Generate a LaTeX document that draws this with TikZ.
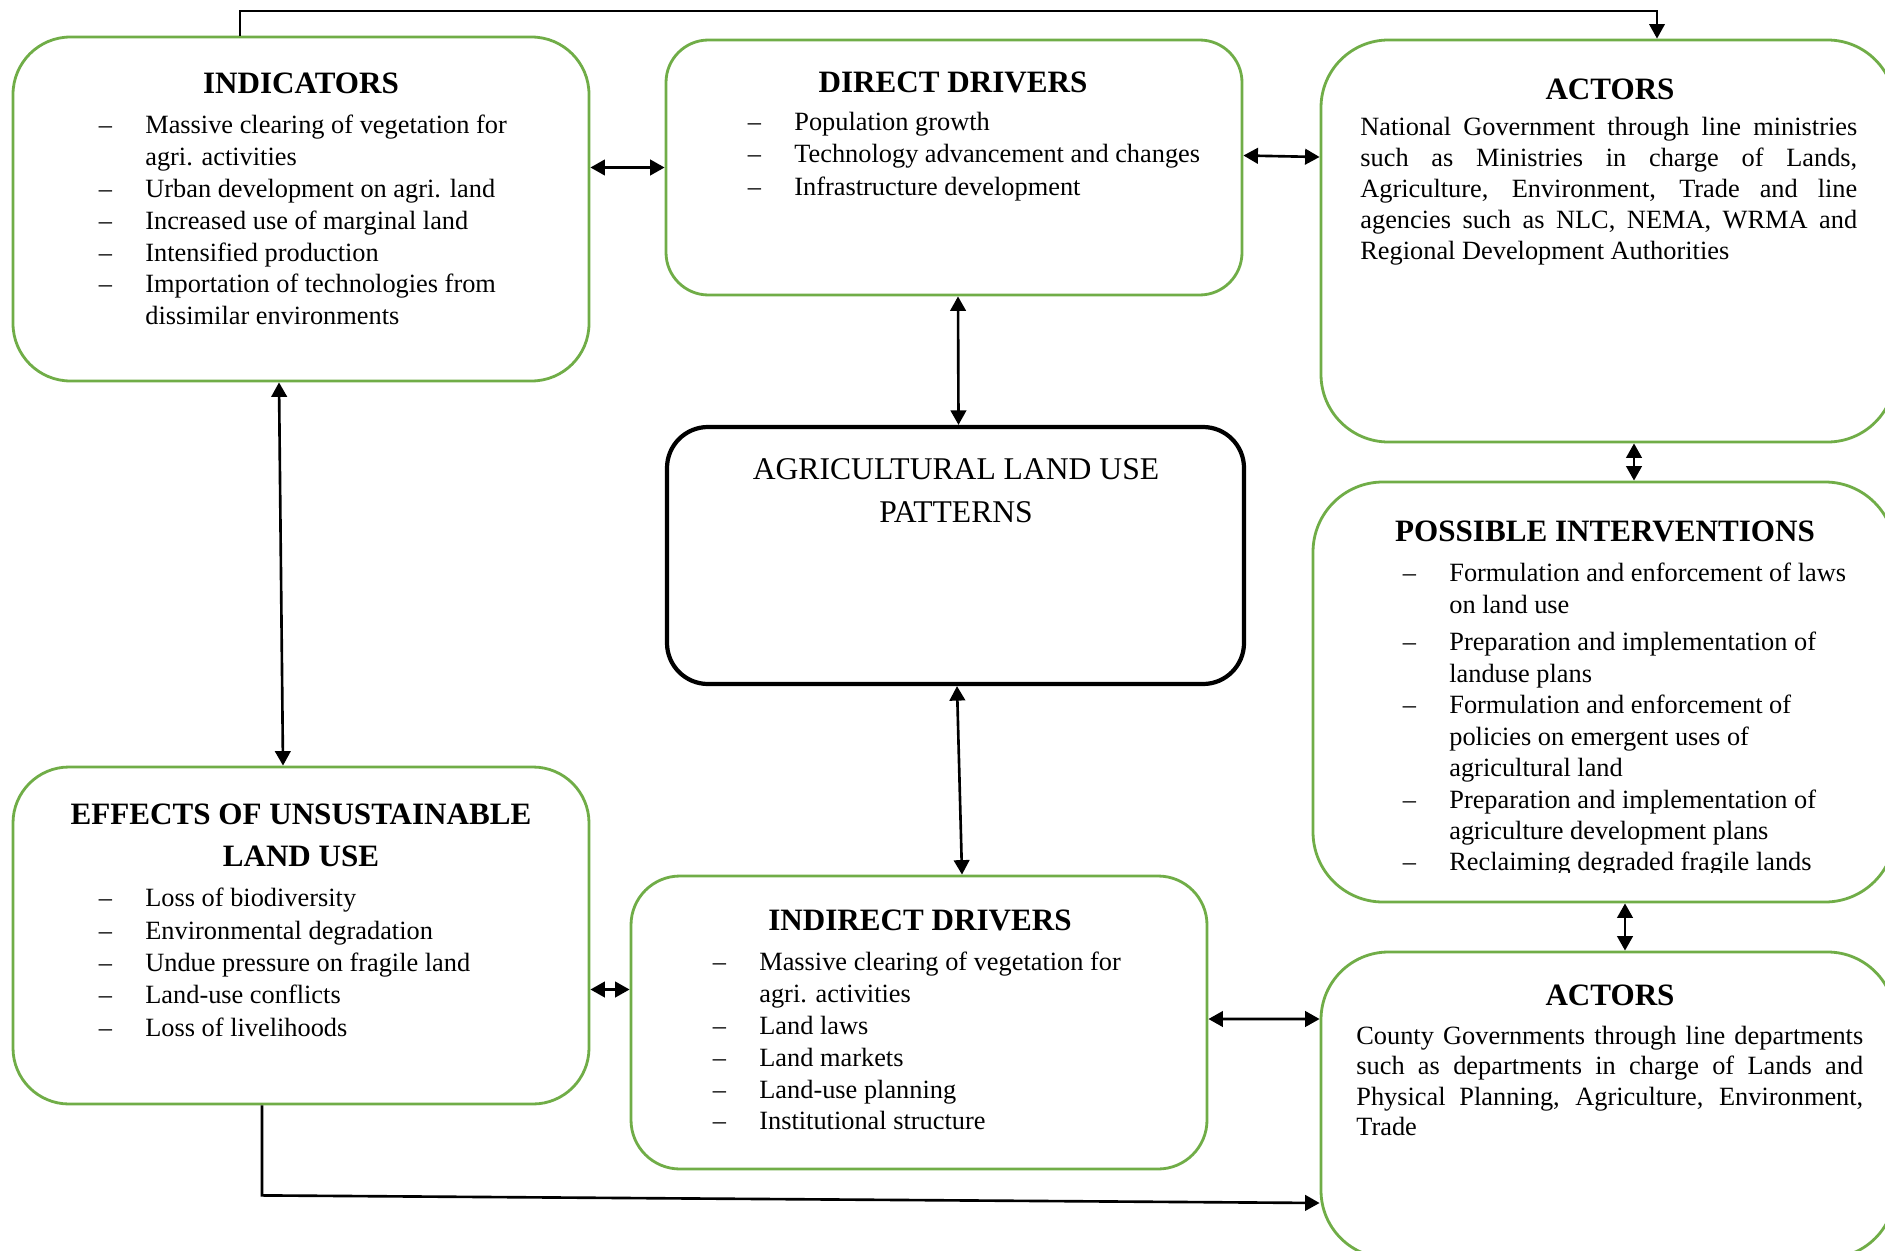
\documentclass[tikz,border=0pt]{standalone}
\usepackage{fontspec}
\setmainfont{Liberation Serif}
\usetikzlibrary{arrows.meta,calc,fit}
\definecolor{boxgreen}{RGB}{112,173,71}

% dash bullet and continuation indent for the item lists
\newcommand\dsh{\makebox[0.8cm][l]{\hspace*{-0.13cm}–}}
\newcommand\cnt{\hspace*{0.8cm}}

\begin{document}
\begin{tikzpicture}[x=0.02cm,y=-0.02cm,
  gbox/.style={draw=boxgreen, line width=1.6pt, inner sep=0pt, rectangle},
  ttl/.style={font=\fontsize{17.7}{23.8}\selectfont\bfseries, inner sep=0pt, align=center},
  lst/.style={inner sep=0pt, align=left, anchor=north west},
  body/.style={inner sep=0pt, align=justify, anchor=north west},
  conn/.style={line width=1.5pt, draw=black},
  tip/.tip={Triangle[length=0.29cm,width=0.31cm]},
  arr/.style={conn, -tip},
  biarr/.style={conn, tip-tip},
]
\useasboundingbox (0,0) rectangle (1885,1250);
\clip (0,0) rectangle (1885,1250);
\fill[white] (0,0) rectangle (1885,1250);

% ---------- boxes ----------
\node[gbox, rounded corners=1.15cm, fit={(13,37) (589,381)}] (ind) {};
\node[gbox, rounded corners=0.85cm, fit={(666,40) (1242,295)}] (dd) {};
\node[gbox, rounded corners=1.35cm, fit={(1321,40) (1895,442)}] (act1) {};
\node[draw=black, line width=2.4pt, inner sep=0pt, rounded corners=0.82cm, fit={(667,427) (1244,684)}] (agri) {};
\node[gbox, rounded corners=1.4cm, fit={(1313,482) (1895,902)}] (int) {};
\node[gbox, rounded corners=1.12cm, fit={(13,767) (589,1104)}] (eff) {};
\node[gbox, rounded corners=0.98cm, fit={(631,876) (1207,1169)}] (indr) {};
\node[gbox, rounded corners=1.35cm, fit={(1321,952) (1895,1258)}] (act2) {};

% ---------- titles ----------
\node[ttl] (indT) at (301,83) {INDICATORS};
\node[ttl] (ddT) at (953,82) {DIRECT DRIVERS};
\node[ttl] (a1T) at (1610,89) {ACTORS};
\node[ttl] (intT) at (1605,531) {POSSIBLE INTERVENTIONS};
\node[ttl] (effT) at (301,835) {EFFECTS OF UNSUSTAINABLE\\LAND USE};
\node[ttl] (indrT) at (920,920) {INDIRECT DRIVERS};
\node[ttl] (a2T) at (1610,995) {ACTORS};

\node[inner sep=0pt, align=center, font=\fontsize{18}{24.4}\selectfont] (agriT) at (956,491)
  {AGRICULTURAL LAND USE\\PATTERNS};

% ---------- lists ----------
\node[lst, font=\fontsize{15}{18.1}\selectfont] (indL) at (105,115) {%
  \dsh Massive clearing of vegetation for\\
  \cnt agri. activities\\
  \dsh Urban development on agri. land\\
  \dsh Increased use of marginal land\\
  \dsh Intensified production\\
  \dsh Importation of technologies from\\
  \cnt dissimilar environments};

\node[lst, font=\fontsize{15}{18.4}\selectfont] (ddL) at (754,112) {%
  \dsh Population growth\\
  \dsh Technology advancement and changes\\
  \dsh Infrastructure development};

\node[body, text width=9.94cm, font=\fontsize{15}{17.6}\selectfont] (a1B) at (1360,117) {%
  National Government through line ministries\linebreak
  such as Ministries in charge of Lands,\linebreak
  Agriculture, Environment, Trade and line\linebreak
  agencies such as NLC, NEMA, WRMA and\linebreak
  Regional Development Authorities};

\begin{scope}
  \clip (1300,480) rectangle (1895,872);
  \node[lst, font=\fontsize{15}{17.9}\selectfont] (intL) at (1409,563) {%
    \dsh Formulation and enforcement of laws\\
    \cnt on land use\\[3.4pt]
    \dsh Preparation and implementation of\\
    \cnt landuse plans\\
    \dsh Formulation and enforcement of\\
    \cnt policies on emergent uses of\\
    \cnt agricultural land\\
    \dsh Preparation and implementation of\\
    \cnt agriculture development plans\\
    \dsh Reclaiming degraded fragile lands};
\end{scope}

\node[lst, font=\fontsize{15}{18.4}\selectfont] (effL) at (105,888) {%
  \dsh Loss of biodiversity\\
  \dsh Environmental degradation\\
  \dsh Undue pressure on fragile land\\
  \dsh Land-use conflicts\\
  \dsh Loss of livelihoods};

\node[lst, font=\fontsize{15}{18.1}\selectfont] (indrL) at (719,952) {%
  \dsh Massive clearing of vegetation for\\
  \cnt agri. activities\\
  \dsh Land laws\\
  \dsh Land markets\\
  \dsh Land-use planning\\
  \dsh Institutional structure};

\node[body, text width=10.14cm, font=\fontsize{15}{17.2}\selectfont] (a2B) at (1356,1026) {%
  County Governments through line departments\linebreak
  such as departments in charge of Lands and\linebreak
  Physical Planning, Agriculture, Environment,\linebreak
  Trade};

% ---------- connectors ----------
\draw[arr, line width=1.1pt] ($(ind.north)+(-61,0)$) -- ++(0,-25) -| ($(act1.north)+(49,0)$);
\draw[biarr] (ind.east |- dd.west) -- (dd.west);
\draw[biarr] ($(dd.east)+(0,-12)$) -- ($(act1.west)+(0,-84)$);
\draw[biarr] ($(dd.south)+(4,0)$) -- ($(agri.north)+(3,0)$);
\draw[biarr] ($(ind.south)+(-22,0)$) -- ($(eff.north)+(-18,0)$);
\draw[biarr] ($(act1.south)+(26,0)$) -- ($(int.north)+(30,0)$);
\draw[biarr] ($(agri.south)+(1.5,0)$) -- ($(indr.north)+(43,0)$);
\draw[biarr] ($(eff.east)+(0,54)$) -- ($(indr.west)+(0,-33)$);
\draw[biarr] ($(indr.east)+(0,-3.5)$) -- ($(act2.west)+(0,-86)$);
\draw[biarr] ($(int.south)+(21,0)$) -- ($(act2.north)+(17,0)$);
\draw[arr] ($(eff.south)+(-39,0)$) -- ++(0,90) -- ($(act2.west)+(0,98)$);
\end{tikzpicture}
\end{document}
